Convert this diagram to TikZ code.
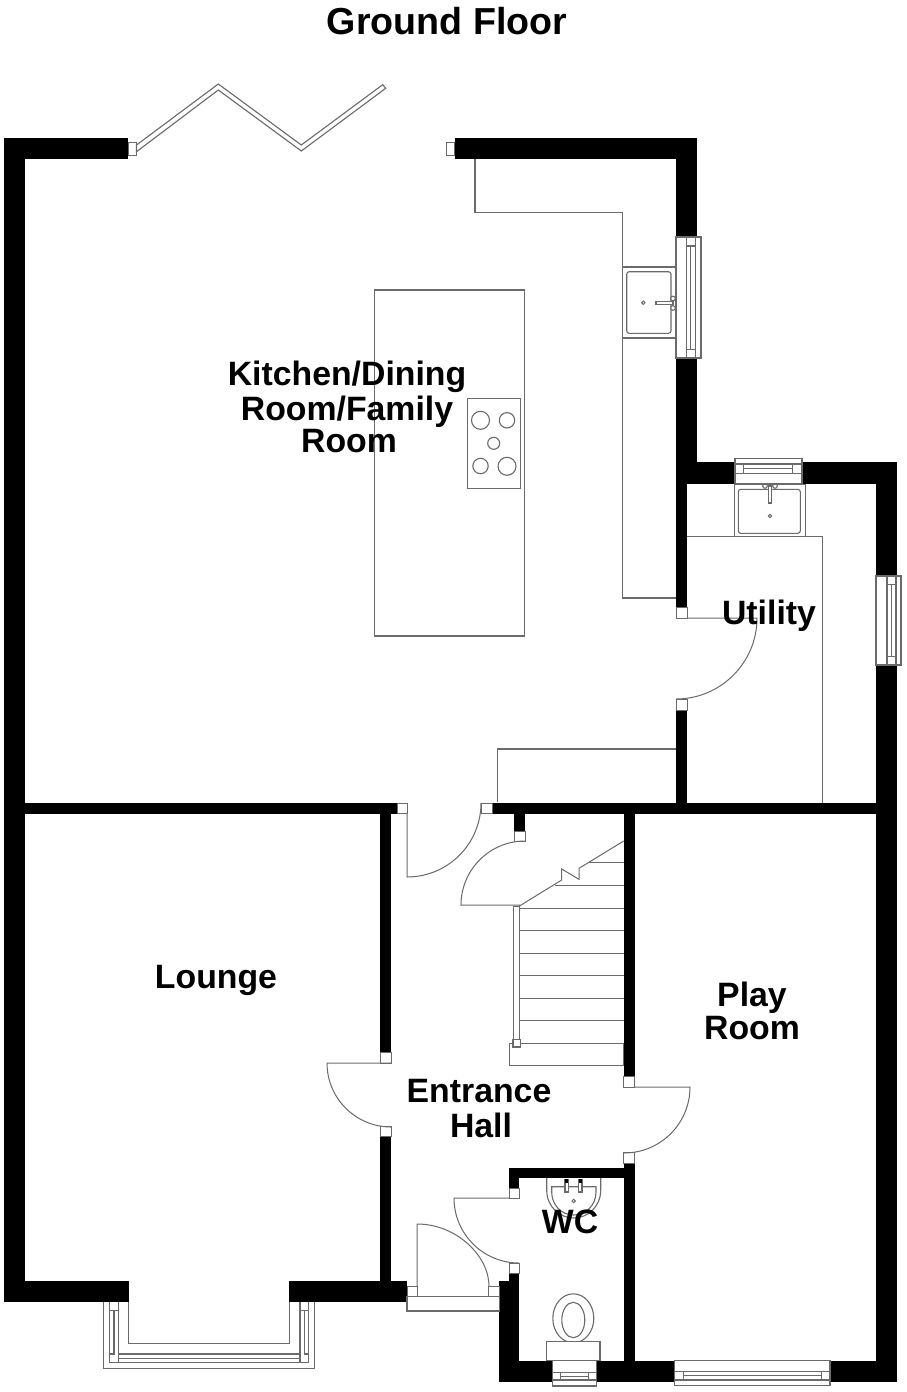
\documentclass[tikz,border=0pt]{standalone}
\usepackage{fontspec}
\setmainfont{Liberation Sans}
\definecolor{linegray}{HTML}{6A6A6A}
\tikzset{
  wall/.style={fill=black,draw=none},
  jamb/.style={fill=white,draw=linegray,line width=1pt},
  fix/.style={draw=linegray,line width=1.1pt,line join=miter},
  fixw/.style={fix,fill=white},
  fine/.style={draw=linegray,line width=1pt},
  room/.style={font=\fontsize{33.8}{33.8}\bfseries\selectfont,text=black,inner sep=0pt,align=center,anchor=center},
  titletext/.style={font=\fontsize{37.6}{37.6}\bfseries\selectfont,text=black,inner sep=0pt,anchor=center}
}
\begin{document}
\begin{tikzpicture}[x=1pt,y=-1pt]
\useasboundingbox (0,0) rectangle (907,1392);
\fill[white] (0,0) rectangle (907,1392);

% ---- fixtures under the walls
% kitchen worktops
\draw[fix] (475,159) -- (475,212.3) -- (622.7,212.3) -- (622.7,598) -- (676,598);
\draw[fix] (497.3,802) -- (497.3,749) -- (676,749);
\draw[fix] (687,536.7) -- (822.7,536.7) -- (822.7,803);
% island and hob
\draw[fix] (374.5,290) rectangle (524.5,636);
\draw[fix] (467.3,398.3) rectangle (520.3,488.3);
\foreach \cx/\cy/\r in {480.5/420.3/9,507/420.3/7.7,493.7/443.3/6,480.5/466/7.7,507/466.3/9}
  \draw[fix] (\cx,\cy) ellipse [x radius=\r,y radius=\r];
% kitchen sink
\draw[fixw] (622.7,267) rectangle (676,338);
\draw[fix,rounded corners=2.5pt] (626.7,271.7) rectangle (671,333.3);
\draw[fine] (643.3,302.7) circle [radius=1.7];
\draw[fixw] (656,301.8) rectangle (673,304.2);
\draw[fixw] (673,298.5) circle [radius=2.3];
\draw[fixw] (673,308) circle [radius=2.3];
% utility sink
\draw[fixw] (734.3,484) rectangle (805.7,536.7);
\draw[fix,rounded corners=2.5pt] (738.3,489.3) rectangle (800.3,533.3);
\draw[fine] (770,516) circle [radius=1.7];
\draw[fixw] (768.8,486) rectangle (771.2,503);
\draw[fixw] (765,486) circle [radius=2.3];
\draw[fixw] (775,486) circle [radius=2.3];
% WC basin
\draw[fix] (546.7,1178) -- (546.7,1190) .. controls (546.7,1207) and (560,1218) .. (573.7,1218) .. controls (587.4,1218) and (600.7,1207) .. (600.7,1190) -- (600.7,1178);
\draw[fix] (551.7,1186.7) -- (596,1186.7) -- (596,1192) .. controls (596,1205) and (586,1215) .. (573.7,1215) .. controls (561.4,1215) and (551.7,1205) .. (551.7,1192) -- cycle;
\draw[fixw] (565,1180) rectangle (568.3,1192);
\draw[fixw] (578.7,1180) rectangle (582,1192);
\fill[black] (565,1179) rectangle (568.3,1183);
\fill[black] (578.7,1179) rectangle (582,1183);
\draw[fine] (573.7,1201) circle [radius=1.7];
% WC pan and cistern
\draw[fixw] (573.3,1318.3) ellipse [x radius=20.5,y radius=24.5];
\draw[fix] (573.3,1320) ellipse [x radius=11.5,y radius=17.7];
\draw[fixw] (546.7,1341.3) rectangle (600,1360.7);

% ---- walls
\foreach \xa/\ya/\xb/\yb in {
  4/138/128/159, 4/138/25/1302, 4/1281/129/1302, 289/1281/407/1302,
  25/802.7/397/813.5, 380/813/391/1052, 380/1136/391/1281,
  492/802.7/877/813.5, 514.3/813/525.3/831, 623.7/813/634.7/1076,
  623.7/1163/634.7/1382,
  455/138/697/159, 676/138/697/237, 676/358/697/484, 676/462/735/484,
  802/462/897/484, 876/462/897/576, 876/665/897/1382,
  676/484/687/607, 676/710/687/803,
  508.7/1167.7/624/1178, 508.7/1167.7/519/1188, 509/1273.7/519/1382,
  499.3/1281/519/1382, 499.3/1360.7/552.3/1382, 596.7/1360.7/675/1382,
  830/1360.7/897/1382}
  \fill[wall] (\xa,\ya) rectangle (\xb,\yb);

% ---- jambs
\foreach \xa/\ya/\xb/\yb in {
  128/142.3/136.5/155.7, 446/142.3/454.5/155.7,
  397/803/407/813, 481/803/492/813, 514.3/831/525.3/841.5,
  380/1052/391/1063, 380/1126/391/1136.7, 623.7/1076/634.7/1087, 623.7/1152.7/634.7/1163,
  676/607/687/618, 676/699/687/710,
  509/1188/519/1198, 509/1263/519/1273.7,
  407/1286/417/1296.7, 488.7/1286/499.3/1296.7}
  \draw[jamb] (\xa,\ya) rectangle (\xb,\yb);

% ---- bifold doors
\draw[fix,fill=white] (136.5,145) -- (218.3,84) -- (301.3,145) -- (382.7,84.7) -- (385.7,88.3) -- (301.3,151) -- (218.3,90) -- (136.5,151.7) -- cycle;

% ---- doors
\draw[fine] (391,1063) -- (327,1063) .. controls (327,1098.3) and (355.7,1127) .. (391,1127);
\draw[fine] (634,1087) -- (690,1087) .. controls (690,1123.5) and (660.5,1153) .. (624,1153);
\draw[fine] (407,813) -- (407,877) .. controls (447.9,877) and (481,843.9) .. (481,803);
\draw[fine] (520,905) -- (461,905) .. controls (461,869.7) and (489.7,841) .. (525,841);
\draw[fine] (687,618) -- (757,618) .. controls (757,662.7) and (720.7,699) .. (676,699);
\draw[fine] (417,1286) -- (417,1224) .. controls (456.8,1224) and (489,1256.2) .. (489,1286);
\draw[fine] (509,1198) -- (454,1198) .. controls (454,1233.9) and (483.1,1263) .. (519,1263);
% door sill
\draw[fix] (407,1296.7) rectangle (499.3,1311);

% ---- stairs
\foreach \y in {908,930.7,953,975.7,998.3,1020.7,1043.3}
  \draw[fine] (519.5,\y) -- (623.7,\y);
\draw[fine] (555,885.3) -- (623.7,885.3);
\draw[fine] (588.3,862.7) -- (623.7,862.7);
\draw[fine] (509.3,1043.3) rectangle (623.7,1065.7);
\draw[fixw] (513.3,906.7) rectangle (519.5,1040);
\draw[fixw] (513,1039.7) rectangle (520.3,1047);
\draw[fine] (518.3,906.7) -- (561.7,880) -- (561.7,869) -- (579,879.3) -- (579,868.3) -- (623.7,841);

% ---- windows
% kitchen
\draw[fixw] (676,237) rectangle (701,358);
\draw[fix] (686.3,237) -- (686.3,358) (695.7,237) -- (695.7,358);
\draw[fix] (686.3,246) -- (695.7,246) (686.3,349.3) -- (695.7,349.3) (690.9,246) -- (690.9,349.3);
% utility, back
\draw[fixw] (735,458.7) rectangle (802,484);
\draw[fix] (735,464) -- (802,464) (735,473.3) -- (802,473.3) (743.3,468.7) -- (792.7,468.7);
\draw[fix] (743.3,464) -- (743.3,473.3) (792.7,464) -- (792.7,473.3);
% utility, side
\draw[fixw] (876,576) rectangle (901,665);
\draw[fix] (887,576) -- (887,665) (896,576) -- (896,665);
\draw[fix] (887,584.3) -- (896,584.3) (887,656.7) -- (896,656.7) (891.5,584.3) -- (891.5,656.7);
% play room
\draw[fixw] (674.7,1360.7) rectangle (830,1385.7);
\draw[fix] (674.7,1371.3) -- (830,1371.3) (674.7,1380) -- (830,1380) (683.3,1375.7) -- (821.7,1375.7);
\draw[fix] (683.3,1371.3) -- (683.3,1380) (821.7,1371.3) -- (821.7,1380);
% WC
\draw[fixw] (552.3,1360.7) rectangle (596.7,1386);
\draw[fix] (552.3,1372.3) -- (596.7,1372.3) (552.3,1380) -- (596.7,1380) (560.7,1376.2) -- (588.7,1376.2);
\draw[fix] (560.7,1372.3) -- (560.7,1380) (588.7,1372.3) -- (588.7,1380);
% bay
\draw[fix] (103.3,1302) -- (103.3,1368.3) -- (314.7,1368.3) -- (314.7,1302);
\draw[fix] (128.7,1302) -- (128.7,1343.3) -- (289.3,1343.3) -- (289.3,1302);
\draw[fix] (109.3,1302) -- (109.3,1362.7) -- (308.7,1362.7) -- (308.7,1302);
\draw[fix] (118.7,1302) -- (118.7,1354) -- (300,1354) -- (300,1302);
\draw[fix] (109.3,1310.7) -- (118.7,1310.7) (300,1310.7) -- (308.7,1310.7);
\draw[fix] (114,1310.7) -- (114,1354) -- (109.3,1354) (304.7,1310.7) -- (304.7,1354) -- (308.7,1354);
\draw[fix] (118.7,1354) -- (118.7,1362.7) (300,1354) -- (300,1362.7);
\draw[fix] (118.7,1358.3) -- (300,1358.3);

% ---- labels
\node[titletext] (title) at (447,21) {Ground Floor};
\node[room] (kitchen) at (347,377) {Kitchen/Dining};
\node[room] (kitchenb) at (347,412) {Room/Family};
\node[room] (kitchenc) at (349,441.5) {Room};
\node[room] (lounge) at (216,980) {Lounge};
\node[room] (play) at (752,998) {Play};
\node[room] (playb) at (752,1028) {Room};
\node[room] (utility) at (769,616) {Utility};
\node[room] (hall) at (479,1091) {Entrance};
\node[room] (hallb) at (481,1125) {Hall};
\node[room] (wc) at (570,1222) {WC};
\end{tikzpicture}
\end{document}
